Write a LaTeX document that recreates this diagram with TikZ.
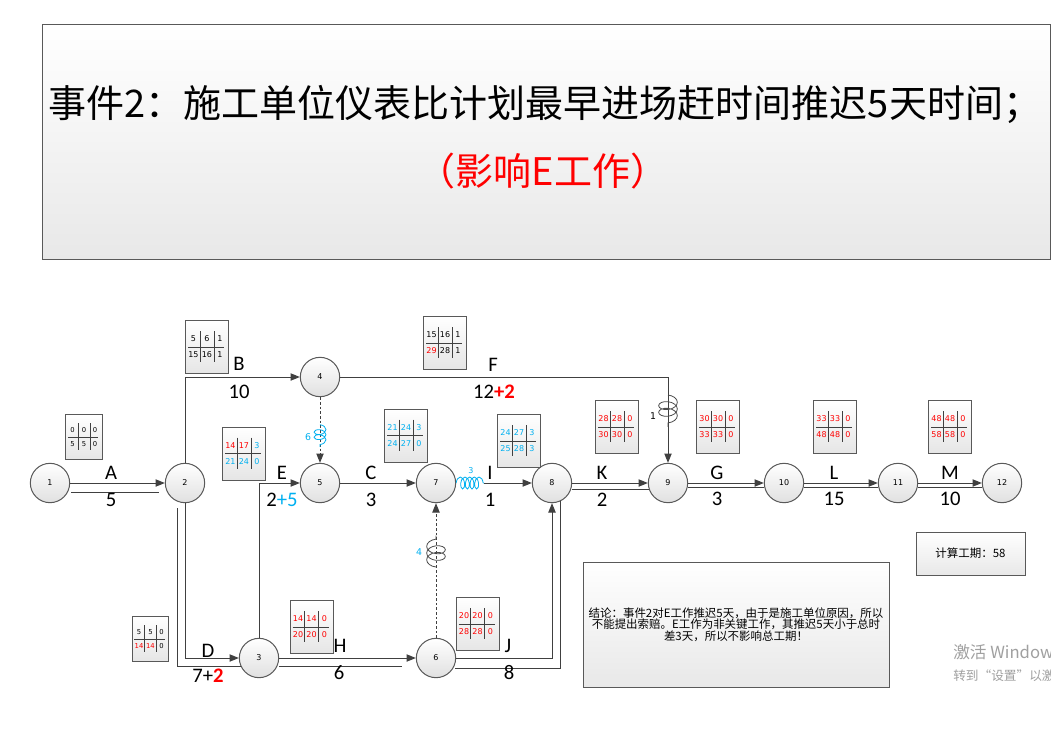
\documentclass[tikz,border=0pt]{standalone}
\usepackage{fontspec}
\setmainfont{Carlito}
\newfontfamily\cjk{Noto Sans CJK SC}
\newfontfamily\tahoma{DejaVu Sans}
\usetikzlibrary{arrows.meta,calc,decorations.pathmorphing}
\definecolor{linegray}{HTML}{404040}
\definecolor{framegray}{HTML}{595959}
\definecolor{skyblue}{HTML}{00B0F0}
\definecolor{hotred}{HTML}{FF0000}
\definecolor{markgray}{HTML}{A0A0A0}
\newcommand\redn[1]{\textcolor{hotred}{#1}}
\newcommand\bluen[1]{\textcolor{skyblue}{#1}}
\tikzset{
  evt/.style={circle,draw=framegray,line width=0.75pt,top color=white,bottom color=black!12,
    minimum size=29.5pt,inner sep=0pt,font=\tahoma\fontsize{6}{7}\selectfont},
  tpbox/.style={rectangle,draw=framegray,line width=0.75pt,top color=white,bottom color=black!10,
    minimum width=32.25pt,minimum height=39.75pt,inner sep=0pt},
  bigbox/.style={rectangle,draw=framegray,line width=0.75pt,top color=white,bottom color=black!9},
  tnum/.style={font=\tahoma\fontsize{6}{7}\selectfont,inner sep=0pt},
  tgrid/.style={draw=black!75,line width=0.5pt},
  allred/.style={every node/.append style={text=hotred}},
  allblue/.style={every node/.append style={text=skyblue}},
  lbl/.style={font=\fontsize{15.5}{18}\selectfont,inner sep=0pt},
  small/.style={font=\tahoma\fontsize{7}{8}\selectfont,inner sep=0pt},
  arr/.style={-{Triangle[length=7pt,width=5.5pt]},draw=linegray,line width=0.75pt},
  crit/.style={draw=linegray,line width=0.75pt},
  dum/.style={arr,dash pattern=on 2pt off 1.5pt},
  coilbig/.style={draw=black!70,line width=0.6pt,decorate,
    decoration={coil,aspect=0.6,segment length=5pt,amplitude=7pt}},
  coilsky/.style={draw=skyblue,line width=0.6pt,decorate,
    decoration={coil,aspect=0.6,segment length=3.8pt,amplitude=4.5pt}},
  coilflat/.style={draw=skyblue,line width=0.6pt,decorate,
    decoration={coil,aspect=0.5,segment length=3.5pt,amplitude=4.5pt}},
}
% time parameter table: [options]{name}{position}{six entries}
\newcommand\tparam[9][]{%
  \begin{scope}[shift={#3},transform shape,#1]
    \node[tpbox] (#2) at (0,0) {};
    \draw[tgrid] (-19,0) -- (17,0) (-7,-16) -- (-7,15) (7,-16) -- (7,15);
    \node[tnum] at (-13.5,-8) {#4};
    \node[tnum] at (0,-8) {#5};
    \node[tnum] at (13,-8) {#6};
    \node[tnum] at (-13.5,8) {#7};
    \node[tnum] at (0,8) {#8};
    \node[tnum] at (13,8) {#9};
  \end{scope}}

\begin{document}
\begin{tikzpicture}[x=0.75pt,y=-0.75pt]
\useasboundingbox (0,0) rectangle (1051,747);
\fill[white] (0,0) rectangle (1051,747);

% heading
\node[bigbox,minimum width=756pt,minimum height=176.25pt] (head) at (546,141.5) {};
\node[font=\cjk\fontsize{28.5}{30}\selectfont] (head1) at (545,104) {事件2：施工单位仪表比计划最早进场赶时间推迟5天时间；};
\node[font=\cjk\fontsize{28.5}{30}\selectfont,text=hotred] (head2) at (543,171) {（影响E工作）};

% events
\node[evt] (n1) at (50,483) {1};
\node[evt] (n2) at (185,483) {2};
\node[evt] (n3) at (259,658) {3};
\node[evt] (n4) at (320,377) {4};
\node[evt] (n5) at (320,483) {5};
\node[evt] (n6) at (436,658) {6};
\node[evt] (n7) at (436,483) {7};
\node[evt] (n8) at (552,483) {8};
\node[evt] (n9) at (668,483) {9};
\node[evt] (n10) at (784,483) {10};
\node[evt] (n11) at (898,483) {11};
\node[evt] (n12) at (1002,483) {12};

% time parameters
\tparam[scale=0.85]{tA}{(84,437)}{0}{0}{0}{5}{5}{0}
\tparam{tB}{(207,347)}{5}{6}{1}{15}{16}{1}
\tparam{tE}{(244,453.5)}{\redn{14}}{\redn{17}}{\bluen{3}}{\bluen{21}}{\bluen{24}}{\bluen{0}}
\tparam{tF}{(445,343)}{15}{16}{1}{\redn{29}}{28}{1}
\tparam[allblue]{tC}{(406,435.5)}{21}{24}{3}{24}{27}{0}
\tparam[allblue]{tI}{(519,441)}{24}{27}{3}{25}{28}{3}
\tparam[allred]{tK}{(617,427)}{28}{28}{0}{30}{30}{0}
\tparam[allred]{tG}{(718,427)}{30}{30}{0}{33}{33}{0}
\tparam[allred]{tL}{(835,427)}{33}{33}{0}{48}{48}{0}
\tparam[allred]{tM}{(950,427)}{48}{48}{0}{58}{58}{0}
\tparam[scale=0.85]{tD}{(150.5,639)}{5}{5}{0}{\redn{14}}{\redn{14}}{0}
\tparam[allred]{tH}{(311.5,627)}{14}{14}{0}{20}{20}{0}
\tparam[allred]{tJ}{(477.5,624)}{20}{20}{0}{28}{28}{0}

% activities
\draw[arr] (n1) -- (n2);
\draw[crit] ($(n1.east)+(1,9)$) -- ($(n2.west)+(-6,9)$);
\draw[arr] (n2) |- (n4);
\draw[arr] (n2) |- (n3);
\draw[crit] ($(n2.south)+(-8,5)$) |- ($(n3.west)+(2,8)$);
\draw[arr] (n3) |- (n5);
\draw[arr] (n3) -- (n6);
\draw[crit] ($(n3.east)+(0,8)$) -- ($(n6.west)+(-14,8)$);
\draw[arr] (n5) -- (n7);
\draw[arr] (n4) -| (n9);
\coordinate (fk) at (n9 |- n4);
\draw[coilbig] ($(fk)!0.17!(n9)$) -- ($(fk)!0.47!(n9)$);
\coordinate (iw) at (484,483);
\draw[coilflat] (n7) -- (iw);
\draw[arr] (iw) -- (n8);
\draw[arr] (n6) -| (n8);
\draw[crit] ($(n6.east)+(-1,10)$) -| ($(n8.south)+(8,-2)$);
\draw[arr] (n8) -- (n9);
\draw[crit] ($(n8.east)+(0,6)$) -- ($(n9.west)+(1,6)$);
\draw[arr] (n9) -- (n10);
\draw[crit] ($(n9.east)+(0,4)$) -- ($(n10.west)+(0,4)$);
\draw[arr] (n10) -- (n11);
\draw[crit] ($(n10.east)+(0,4)$) -- ($(n11.west)+(0,4)$);
\draw[arr] (n11) -- (n12);
\draw[crit] ($(n11.east)+(0,4)$) -- ($(n12.west)+(0,4)$);

% dummies
\draw[dum] (n4) -- (n5);
\draw[coilsky] ($(n4)!0.45!(n5)$) -- ($(n4)!0.66!(n5)$);
\draw[dum] (n6) -- (n7);
\draw[coilbig] ($(n6)!0.52!(n7)$) -- ($(n6)!0.70!(n7)$);

% free float marks
\node[small,text=skyblue] (fl45) at (308,437) {6};
\node[small,text=skyblue] (fl67) at (419,552) {4};
\node[small] (flF) at (653,416) {1};
\node[tnum,text=skyblue] (flI) at (471,471) {3};

% activity names and durations
\node[lbl] (lA) at (111,473) {A};
\node[lbl] (dA) at (111,500) {5};
\node[lbl] (lB) at (239,364) {B};
\node[lbl] (dB) at (239,392) {10};
\node[lbl] (lE) at (282,473) {E};
\node[lbl] (dE) at (282,500) {2\textcolor{skyblue}{+5}};
\node[lbl] (lC) at (371,473) {C};
\node[lbl] (dC) at (371,500) {3};
\node[lbl] (lF) at (493,365) {F};
\node[lbl] (dF) at (494,392) {12{\bfseries\color{hotred}+2}};
\node[lbl] (lI) at (490,473) {I};
\node[lbl] (dI) at (490,500) {1};
\node[lbl] (lK) at (602,473) {K};
\node[lbl] (dK) at (602,500) {2};
\node[lbl] (lG) at (717,473) {G};
\node[lbl] (dG) at (717,499) {3};
\node[lbl] (lL) at (834,473) {L};
\node[lbl] (dL) at (834,499) {15};
\node[lbl] (lM) at (950,473) {M};
\node[lbl] (dM) at (950,499) {10};
\node[lbl] (lD) at (208,651) {D};
\node[lbl] (dD) at (208,676) {7+{\bfseries\color{hotred}2}};
\node[lbl] (lH) at (340,646) {H};
\node[lbl] (dH) at (339,673) {6};
\node[lbl] (lJ) at (508,646) {J};
\node[lbl] (dJ) at (509,673) {8};

% notes
\node[bigbox,minimum width=81.75pt,minimum height=32.25pt,font=\cjk\fontsize{8.6}{9}\selectfont] (total) at (970.5,553.5) {计算工期：58};
\node[bigbox,minimum width=229.5pt,minimum height=93.75pt,align=center,font=\cjk\fontsize{8.6}{8.5}\selectfont] (concl) at (736,624.5) {结论：事件2对E工作推迟5天，由于是施工单位原因，所以\\不能提出索赔。E工作为非关键工作，其推迟5天小于总时\\差3天，所以不影响总工期！};

\begin{scope}
  \clip (0,0) rectangle (1051,747);
  \node[anchor=west,inner sep=0pt,text=markgray,font=\cjk\fontsize{12.5}{14}\selectfont] (wm1) at (953,652) {激活 Windows};
  \node[anchor=west,inner sep=0pt,text=markgray,font=\cjk\fontsize{9.5}{11}\selectfont] (wm2) at (953,676) {转到“设置”以激活 Windows。};
\end{scope}
\end{tikzpicture}
\end{document}
